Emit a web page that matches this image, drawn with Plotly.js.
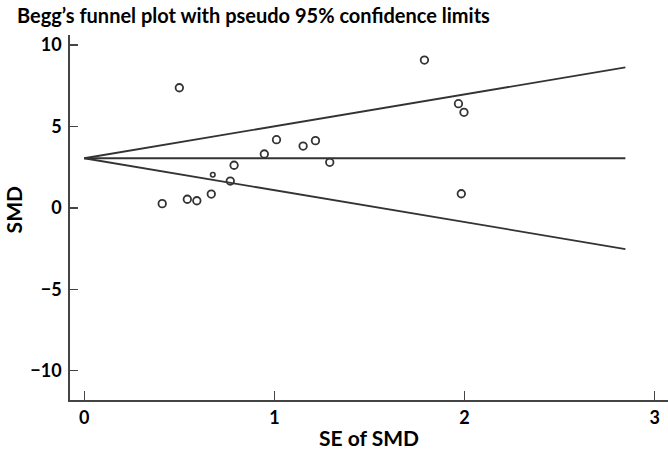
<!DOCTYPE html>
<html>
<head>
<meta charset="utf-8">
<script src="https://cdn.plot.ly/plotly-3.0.1.min.js"></script>
<style>html,body{margin:0;padding:0;background:#fff;}#chart{width:668px;height:458px;}</style>
</head>
<body>
<div id="chart"></div>
<script>
// Study estimates
var seSMD = [0.41, 0.50, 0.542, 0.592, 0.668, 0.768, 0.788, 0.947, 1.011, 1.151, 1.216, 1.291, 1.789, 1.968, 1.997, 1.983];
var smd   = [0.26, 7.38, 0.53, 0.44, 0.85, 1.65, 2.62, 3.31, 4.19, 3.80, 4.13, 2.80, 9.08, 6.40, 5.87, 0.87];
// one study drawn with a smaller marker
var seSmall  = [0.676];
var smdSmall = [2.04];
// pooled estimate and pseudo 95% limits
var lineSE    = [0, 2.846];
var pooled    = [3.05, 3.05];
var upperLim  = [3.05, 8.63];
var lowerLim  = [3.05, -2.53];

var xTicks = [0, 1, 2, 3];
var yTicks = [-10, -5, 0, 5, 10];
var yTickText = ['\u221210', '\u22125', '0', '5', '10'];

var font = 'Lato, "Open Sans", sans-serif';
var lineStyle = {color: '#333', width: 1.8};

var traces = [
  {x: lineSE, y: upperLim, mode: 'lines', line: lineStyle, hoverinfo: 'skip'},
  {x: lineSE, y: pooled, mode: 'lines', line: lineStyle, hoverinfo: 'skip'},
  {x: lineSE, y: lowerLim, mode: 'lines', line: lineStyle, hoverinfo: 'skip'},
  {x: seSMD, y: smd, mode: 'markers',
   marker: {symbol: 'circle-open', size: 7.5, color: '#333', line: {width: 1.8, color: '#333'}}},
  {x: seSmall, y: smdSmall, mode: 'markers',
   marker: {symbol: 'circle-open', size: 4.5, color: '#333', line: {width: 1.6, color: '#333'}}}
];

var layout = {
  width: 668, height: 458,
  margin: {l: 70, r: 0, t: 35, b: 58},
  paper_bgcolor: '#fff', plot_bgcolor: '#fff',
  showlegend: false,
  font: {family: font, color: '#000', size: 17, weight: 'bold'},
  title: {
    text: 'Begg\u2019s funnel plot with pseudo 95% confidence limits',
    font: {family: font, size: 20, weight: 'bold', color: '#000'},
    x: 17/668, xanchor: 'left', xref: 'container',
    y: 1 - 16/458, yanchor: 'middle', yref: 'container'
  },
  xaxis: {
    range: [-0.075, 3.07],
    tickvals: xTicks, ticktext: xTicks.map(String),
    ticks: 'inside', ticklen: 9, tickwidth: 1.5, tickcolor: '#444',
    showline: true, linecolor: '#444', linewidth: 1.8,
    showgrid: false, zeroline: false,
    tickfont: {family: font, size: 18, weight: 'bold', color: '#000'},
    ticklabelstandoff: 1,
    title: {text: 'SE of SMD', font: {family: font, size: 21, weight: 'bold', color: '#000'}, standoff: 4}
  },
  yaxis: {
    range: [-11.8, 10.62],
    tickvals: yTicks, ticktext: yTickText,
    ticks: 'inside', ticklen: 8, tickwidth: 1.5, tickcolor: '#444',
    showline: true, linecolor: '#444', linewidth: 1.8,
    showgrid: false, zeroline: false,
    tickfont: {family: font, size: 18, weight: 'bold', color: '#000'},
    ticklabelstandoff: 3
  },
  annotations: [{
    text: 'SMD', xref: 'paper', yref: 'paper',
    x: -0.095, y: 0.52, xanchor: 'center', yanchor: 'middle',
    textangle: -90, showarrow: false,
    font: {family: font, size: 21, weight: 'bold', color: '#000'}
  }]
};

Plotly.newPlot('chart', traces, layout, {displayModeBar: false, staticPlot: true});
</script>
</body>
</html>
